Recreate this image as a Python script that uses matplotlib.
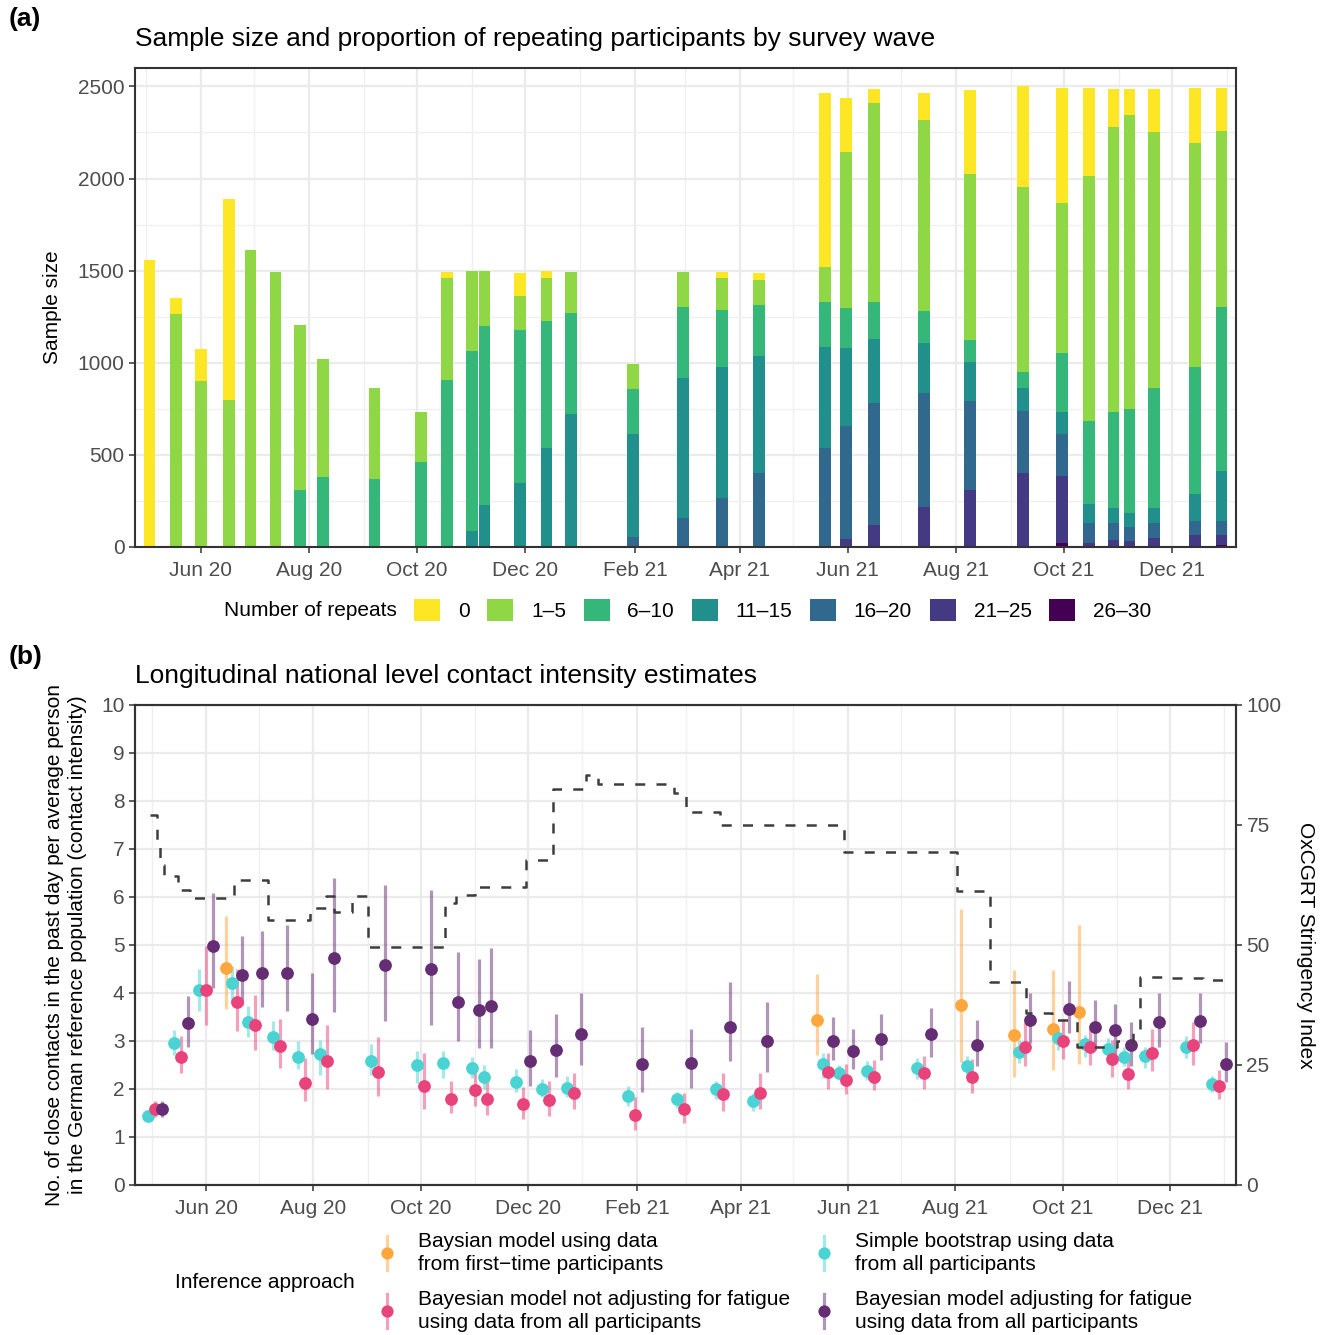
import numpy as np
import matplotlib
matplotlib.use("Agg")
import matplotlib.pyplot as plt
import matplotlib.dates as mdates
from matplotlib.lines import Line2D
from matplotlib.patches import Patch
from matplotlib.ticker import FixedLocator

plt.rcParams['font.family'] = ['Liberation Sans', 'DejaVu Sans']

# ---------------- data ----------------
wave_dates = np.array([
    '2020-05-03', '2020-05-18', '2020-06-01', '2020-06-17', '2020-06-29', '2020-07-13',
    '2020-07-27', '2020-08-09', '2020-09-07', '2020-10-03', '2020-10-18', '2020-11-01',
    '2020-11-08', '2020-11-28', '2020-12-13', '2020-12-27', '2021-01-31', '2021-02-28',
    '2021-03-22', '2021-04-12', '2021-05-19', '2021-05-31', '2021-06-16', '2021-07-14',
    '2021-08-09', '2021-09-08', '2021-09-30', '2021-10-15', '2021-10-29', '2021-11-07',
    '2021-11-21', '2021-12-14', '2021-12-29'], dtype='datetime64[D]')

repeat_labels = ['0', '1–5', '6–10', '11–15', '16–20', '21–25', '26–30']
n_0 = [1559, 87, 173, 1091, 0, 0, 0, 0, 0, 0, 33, 0, 0, 124, 38, 0, 0, 0, 33, 38,
       942, 292, 76, 146, 456, 547, 623, 476, 206, 141, 233, 298, 233]
n_1_5 = [0, 1266, 903, 800, 1613, 1494, 899, 643, 498, 276, 553, 433, 298, 185, 233, 223,
         135, 190, 173, 135, 190, 845, 1078, 1035, 899, 1002, 812, 1328, 1544, 1593, 1387,
         1213, 953]
n_6_10 = [0, 0, 0, 0, 0, 0, 307, 379, 367, 459, 908, 981, 975, 829, 693, 547, 244, 385,
          309, 277, 244, 217, 200, 173, 119, 87, 320, 455, 526, 569, 656, 694, 889]
n_11_15 = [0, 0, 0, 0, 0, 0, 0, 0, 0, 0, 0, 85, 226, 350, 535, 724, 564, 764, 715, 639,
           547, 423, 347, 271, 211, 125, 119, 103, 81, 75, 81, 146, 276]
n_16_20 = [0] * 16 + [52, 155, 264, 399, 540, 617, 667, 623, 488, 341, 233, 108, 92, 76,
                      81, 76, 76]
n_21_25 = [0] * 21 + [42, 117, 215, 307, 399, 363, 20, 36, 31, 47, 63, 54]
n_26_30 = [0] * 26 + [20, 0, 0, 0, 0, 0, 9]
repeat_counts = [n_0, n_1_5, n_6_10, n_11_15, n_16_20, n_21_25, n_26_30]

# contact intensity estimates (panel b)
first_dates = np.array(['2020-06-17', '2021-05-19', '2021-08-09', '2021-09-08',
                        '2021-09-30', '2021-10-15'], dtype='datetime64[D]')
first_mean = [4.53, 3.44, 3.74, 3.13, 3.24, 3.61]
first_lo = [3.66, 2.71, 2.57, 2.26, 2.40, 2.53]
first_hi = [5.60, 4.40, 5.74, 4.47, 4.48, 5.42]

boot_mean = [1.44, 2.95, 4.06, 4.20, 3.40, 3.09, 2.67, 2.73, 2.59, 2.49, 2.55, 2.43, 2.25,
             2.15, 2.00, 2.03, 1.85, 1.79, 1.99, 1.75, 2.53, 2.34, 2.38, 2.43, 2.48, 2.78,
             3.06, 2.93, 2.83, 2.67, 2.69, 2.87, 2.10]
boot_lo = [1.38, 2.71, 3.63, 3.82, 3.08, 2.81, 2.42, 2.29, 2.29, 2.12, 2.22, 2.22, 2.01,
           1.94, 1.83, 1.84, 1.65, 1.60, 1.79, 1.55, 2.22, 2.19, 2.19, 2.21, 2.26, 2.55,
           2.81, 2.67, 2.60, 2.47, 2.44, 2.65, 1.94]
boot_hi = [1.52, 3.23, 4.49, 4.57, 3.72, 3.41, 2.99, 3.02, 2.94, 2.80, 2.80, 2.67, 2.51,
           2.41, 2.20, 2.28, 2.07, 1.94, 2.17, 1.91, 2.76, 2.50, 2.58, 2.64, 2.69, 3.02,
           3.23, 3.13, 3.07, 2.88, 2.88, 3.11, 2.27]

nofat_mean = [1.58, 2.67, 4.06, 3.81, 3.33, 2.90, 2.13, 2.59, 2.36, 2.07, 1.79, 1.98, 1.79,
              1.68, 1.77, 1.92, 1.45, 1.58, 1.90, 1.91, 2.35, 2.19, 2.26, 2.33, 2.24, 2.88,
              3.01, 2.88, 2.63, 2.31, 2.76, 2.92, 2.07]
nofat_lo = [1.42, 2.34, 3.33, 3.21, 2.81, 2.44, 1.74, 2.01, 1.85, 1.59, 1.49, 1.65, 1.46,
            1.38, 1.44, 1.58, 1.15, 1.30, 1.55, 1.58, 2.01, 1.89, 1.97, 2.01, 1.92, 2.47,
            2.62, 2.49, 2.26, 1.99, 2.38, 2.51, 1.80]
nofat_hi = [1.74, 3.10, 4.98, 4.51, 3.96, 3.46, 2.64, 3.33, 3.08, 2.76, 2.17, 2.36, 2.19,
            2.05, 2.17, 2.33, 1.84, 1.91, 2.34, 2.34, 2.76, 2.53, 2.60, 2.69, 2.62, 3.40,
            3.45, 3.28, 3.03, 2.69, 3.24, 3.40, 2.40]

fat_mean = [1.58, 3.37, 4.98, 4.38, 4.42, 4.42, 3.46, 4.73, 4.58, 4.51, 3.82, 3.65, 3.73,
            2.59, 2.81, 3.14, 2.52, 2.55, 3.30, 2.99, 3.01, 2.79, 3.05, 3.14, 2.91, 3.44,
            3.66, 3.30, 3.23, 2.91, 3.39, 3.42, 2.52]
fat_lo = [1.42, 2.88, 4.10, 3.75, 3.70, 3.63, 2.73, 3.60, 3.42, 3.33, 2.99, 2.85, 2.85,
          2.07, 2.24, 2.50, 1.94, 2.03, 2.59, 2.36, 2.60, 2.41, 2.60, 2.67, 2.48, 2.95,
          3.16, 2.81, 2.67, 2.48, 2.88, 2.95, 2.15]
fat_hi = [1.76, 3.94, 6.09, 5.19, 5.30, 5.42, 4.41, 6.39, 6.25, 6.15, 4.85, 4.71, 4.93,
          3.23, 3.56, 4.01, 3.30, 3.25, 4.22, 3.82, 3.49, 3.26, 3.56, 3.68, 3.44, 4.01,
          4.24, 3.85, 3.78, 3.40, 3.99, 4.01, 2.97]

approach_labels = ["Baysian model using data\nfrom first\u2212time participants",
                   "Simple bootstrap using data\nfrom all participants",
                   "Bayesian model not adjusting for fatigue\nusing data from all participants",
                   "Bayesian model adjusting for fatigue\nusing data from all participants"]

# OxCGRT stringency index (change points)
stringency_dates = np.array([
    '2020-04-30', '2020-05-04', '2020-05-06', '2020-05-08', '2020-05-16', '2020-05-23',
    '2020-06-17', '2020-07-06', '2020-07-30', '2020-08-08', '2020-08-13', '2020-08-23',
    '2020-09-01', '2020-10-15', '2020-10-21', '2020-11-01', '2020-11-30', '2020-12-15',
    '2021-01-03', '2021-01-10', '2021-02-22', '2021-03-01', '2021-03-20', '2021-05-30',
    '2021-08-02', '2021-08-21', '2021-09-10', '2021-09-25', '2021-10-09', '2021-11-01',
    '2021-11-10', '2021-11-14', '2021-12-01', '2021-12-20', '2021-12-31'],
    dtype='datetime64[D]')
stringency_values = [77.1, 71.9, 66.7, 64.4, 61.5, 59.7, 63.5, 55.2, 57.8, 60.2, 56.9, 60.2,
                     49.6, 58.7, 60.4, 62.1, 67.7, 82.4, 85.4, 83.5, 81.6, 77.8, 75.0, 69.4,
                     61.25, 42.2, 35.8, 34.4, 28.7, 29.9, 32.3, 43.4, 43.1, 42.7, 42.7]

# ---------------- style ----------------
repeat_colors = ['#FDE725', '#8FD744', '#35B779', '#21908C', '#31688E', '#443A83', '#440154']
c_first, c_boot, c_nofat, c_fat = '#FFA73C', '#4AD3D3', '#E8437A', '#652D74'
grid_major = '#EBEBEB'
W, H = 1324, 1335
FS = 15
TFS = 19


def fx(p):
    return p / W


def fy(p):
    return 1 - p / H


fig = plt.figure(figsize=(W / 100, H / 100), dpi=100)
base = mdates.date2num(np.datetime64('2020-06-01'))


def style_axes(ax):
    ax.set_axisbelow(True)
    ax.grid(which='major', color=grid_major, lw=1.6)
    ax.grid(which='minor', color='#EFEFEF', lw=0.9)
    for s in ax.spines.values():
        s.set_color('#333333')
        s.set_linewidth(1.5)
    ax.tick_params(which='major', length=4.5, width=1.1, color='#333333',
                   labelcolor='#4D4D4D', labelsize=FS, pad=3)
    ax.tick_params(axis='x', which='major', pad=5.5)
    ax.tick_params(which='minor', length=0)
    ax.xaxis.set_major_locator(mdates.MonthLocator(bymonth=[2, 4, 6, 8, 10, 12]))
    ax.xaxis.set_minor_locator(mdates.MonthLocator(bymonth=[1, 3, 5, 7, 9, 11]))
    ax.xaxis.set_major_formatter(mdates.DateFormatter('%b %y'))


# ---------------- panel (a) ----------------
ax_a = fig.add_axes([fx(135), fy(547), fx(1236) - fx(135), fy(68) - fy(547)])
bottom = np.zeros(len(wave_dates))
for lab, vals, col in reversed(list(zip(repeat_labels, repeat_counts, repeat_colors))):
    v = np.array(vals, dtype=float)
    ax_a.bar(wave_dates, v, width=6.6, bottom=bottom, color=col, linewidth=0, label=lab)
    bottom += v
ax_a.set_xlim(base - 37.2, base + 584.1)
ax_a.set_ylim(0, 2600)
ax_a.yaxis.set_major_locator(FixedLocator([0, 500, 1000, 1500, 2000, 2500]))
ax_a.yaxis.set_minor_locator(FixedLocator([250, 750, 1250, 1750, 2250]))
style_axes(ax_a)

fig.text(fx(9), fy(19), '(a)', fontsize=TFS, fontweight='bold', va='center', ha='left')
fig.text(fx(135), fy(39), 'Sample size and proportion of repeating participants by survey wave',
         fontsize=TFS, va='center', ha='left')
fig.text(fx(53), fy(307), 'Sample size', fontsize=FS, rotation=90, va='center', ha='center')

handles = [Patch(facecolor=c, edgecolor='none') for c in repeat_colors]
fig.legend(handles, repeat_labels, ncol=7, loc='center left',
           bbox_to_anchor=(fx(414), fy(610)), frameon=False, fontsize=FS,
           handlelength=1.25, handleheight=1.25, handletextpad=0.85,
           columnspacing=0.85, borderpad=0, borderaxespad=0)
fig.text(fx(397), fy(610), 'Number of repeats', fontsize=FS, va='center', ha='right')

# ---------------- panel (b) ----------------
ax_b = fig.add_axes([fx(135), fy(1185), fx(1236) - fx(135), fy(705) - fy(1185)])
ax_b.set_xlim(base - 40.4, base + 585.6)
ax_b.set_ylim(0, 10)
ax_b.yaxis.set_major_locator(FixedLocator(list(range(0, 11))))
style_axes(ax_b)

series = [
    (first_dates, first_mean, first_lo, first_hi, c_first),
    (wave_dates, boot_mean, boot_lo, boot_hi, c_boot),
    (wave_dates, nofat_mean, nofat_lo, nofat_hi, c_nofat),
    (wave_dates, fat_mean, fat_lo, fat_hi, c_fat),
]
wave_num = mdates.date2num(wave_dates)


def dodged(dates, k):
    out = []
    for d in mdates.date2num(dates):
        present = [j for j, s in enumerate(series) if d in mdates.date2num(s[0])]
        n = len(present)
        i = present.index(k)
        gaps = np.abs(wave_num - d)
        gap = gaps[gaps > 0].min()
        w = 12.0 if gap >= 11 else 6.0
        out.append(d + (i - (n - 1) / 2) * w / n)
    return np.array(out)


xs = [dodged(s[0], k) for k, s in enumerate(series)]
for x, s in zip(xs, series):
    ax_b.vlines(x, s[2], s[3], color=s[4], alpha=0.5, lw=2.3, zorder=2)
for x, s in zip(xs, series):
    ax_b.plot(x, s[1], 'o', color=s[4], ms=9.2, mec='none', zorder=3)

ax2 = ax_b.twinx()
ax2.plot(stringency_dates, stringency_values, drawstyle='steps-post', color='#3D3D3D',
         lw=1.8, ls='--', dashes=(4, 4.5))
ax2.set_ylim(0, 100)
ax2.yaxis.set_major_locator(FixedLocator([0, 25, 50, 75, 100]))
ax2.tick_params(length=4.5, width=1.1, color='#333333', labelcolor='#4D4D4D',
                labelsize=FS, pad=3)
for s in ax2.spines.values():
    s.set_color('#333333')
    s.set_linewidth(1.5)
ax2.set_xlim(ax_b.get_xlim())

fig.text(fx(9), fy(657), '(b)', fontsize=TFS, fontweight='bold', va='center', ha='left')
fig.text(fx(135), fy(676), 'Longitudinal national level contact intensity estimates',
         fontsize=TFS, va='center', ha='left')
fig.text(fx(66), fy(945),
         'No. of close contacts in the past day per average person\n'
         'in the German reference population (contact intensity)',
         fontsize=FS, rotation=90, va='center', ha='center', multialignment='center',
         linespacing=1.3)
fig.text(fx(1305), fy(945), 'OxCGRT Stringency Index', fontsize=FS, rotation=270,
         va='center', ha='center')

# legend (b)
fig.text(fx(175), fy(1283), 'Inference approach', fontsize=FS, va='center', ha='left')
key_pos = [(387, 1253), (824, 1253), (387, 1311), (824, 1311)]
for (kx, ky), s, lab in zip(key_pos, series, approach_labels):
    fig.add_artist(Line2D([fx(kx), fx(kx)], [fy(ky - 17), fy(ky + 17)],
                          transform=fig.transFigure, color=s[4], alpha=0.5, lw=2.3))
    fig.add_artist(Line2D([fx(kx)], [fy(ky)], transform=fig.transFigure, marker='o',
                          color=s[4], ms=8.8, mec='none', ls='none'))
    fig.text(fx(kx + 31), fy(ky), lab, fontsize=FS, va='center', ha='left',
             linespacing=1.3)

fig.savefig('out.png', dpi=100)
